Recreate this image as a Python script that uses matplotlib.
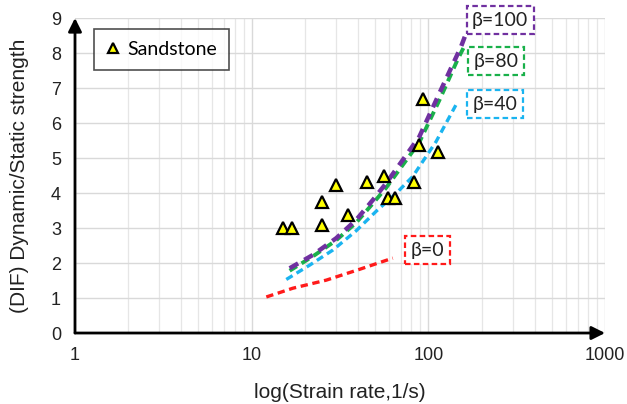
import matplotlib.pyplot as plt
import numpy as np

# sandstone test data (strain rate 1/s, DIF)
rate_pts = [15, 17, 25, 25, 30, 35, 45, 56, 59, 65, 83, 89, 93, 114]
dif_pts = [3.0, 3.0, 3.1, 3.75, 4.23, 3.37, 4.32, 4.5, 3.85, 3.85, 4.32, 5.37, 6.7, 5.18]

# model curves for different beta
rate_b0 = [12.1, 17.1, 26.4, 40.8, 62.9]
dif_b0 = [1.03, 1.28, 1.51, 1.82, 2.14]

rate_b40 = [15.7, 21.3, 28.8, 39.0, 50.7, 65.7, 81.5, 110.6, 143]
dif_b40 = [1.53, 1.94, 2.37, 2.92, 3.48, 3.99, 4.47, 5.47, 6.51]

rate_b80 = [16.4, 22.2, 30.1, 39.0, 48.5, 57.7, 88.9, 115.4, 146, 160]
dif_b80 = [1.78, 2.19, 2.65, 3.15, 3.7, 4.15, 5.45, 6.65, 7.8, 8.2]

rate_b100 = [16.4, 22.2, 30.1, 39.0, 48.5, 57.7, 88.9, 115.4, 153, 166]
dif_b100 = [1.85, 2.23, 2.71, 3.23, 3.8, 4.28, 5.61, 6.85, 8.18, 8.65]

labels = ["β=0", "β=40", "β=80", "β=100"]
label_pos = [(98.7, 2.37), (239, 6.54), (242, 7.77), (255, 8.94)]
colors = ["#FF1A1A", "#1AB4F0", "#19B04A", "#7030A0"]

fig = plt.figure(figsize=(6.27, 4.04), dpi=100)
ax = fig.add_axes([0.1196, 0.1757, 0.8454, 0.7797])

ax.set_xscale("log")
ax.set_xlim(1, 1000)
ax.set_ylim(0, 9)
ax.set_yticks(range(0, 10))
ax.set_xticks([1, 10, 100, 1000])
ax.set_xticklabels(["1", "10", "100", "1000"])
ax.grid(True, which="major", color="#d9d9d9", lw=1.0)
ax.grid(True, which="minor", axis="x", color="#e6e6e6", lw=0.9)
ax.set_axisbelow(True)
ax.tick_params(which="both", length=0, labelsize=13, pad=10)
for lab in ax.get_xticklabels() + ax.get_yticklabels():
    lab.set_fontfamily("Liberation Sans")
    lab.set_color("#222222")
for s in ax.spines.values():
    s.set_visible(False)

# axis arrows
ax.annotate("", xy=(1.0, 0), xycoords="axes fraction", xytext=(0, 0),
            arrowprops=dict(arrowstyle="-|>", color="black", lw=2, mutation_scale=20,
                            shrinkA=0, shrinkB=0))
ax.annotate("", xy=(0, 1.0), xycoords="axes fraction", xytext=(0, 0),
            arrowprops=dict(arrowstyle="-|>", color="black", lw=2, mutation_scale=20,
                            shrinkA=0, shrinkB=0))

ax.plot(rate_b0, dif_b0, color=colors[0], lw=2.4, dashes=(2.2, 1.4), zorder=3)
ax.plot(rate_b40, dif_b40, color=colors[1], lw=2.4, dashes=(2.2, 1.4), zorder=3)
ax.plot(rate_b80, dif_b80, color=colors[2], lw=2.8, dashes=(2.2, 1.4), zorder=3)
ax.plot(rate_b100, dif_b100, color=colors[3], lw=3.2, dashes=(2.2, 1.6), zorder=4)

ax.plot(rate_pts, dif_pts, ls="none", marker="^", ms=9, mfc="#FFFF00", mec="black",
        mew=1.6, label="Sandstone", zorder=5)

for txt, (x, y), c in zip(labels, label_pos, colors):
    ax.text(x, y, txt, ha="center", va="center", fontsize=14, family="Lato",
            color="#222222", zorder=6,
            bbox=dict(boxstyle="square,pad=0.28", fc="white", ec=c, lw=1.6, ls=(0, (2.5, 1.5))))

leg = ax.legend(loc="upper left", bbox_to_anchor=(0.017, 0.995), frameon=True, fancybox=False,
                prop={"family": "Lato", "size": 14}, handlelength=0.8, handletextpad=0.35,
                borderpad=0.6, markerscale=0.75)
leg.get_frame().set_edgecolor("#222222")
leg.get_frame().set_linewidth(1.2)

ax.set_ylabel("(DIF) Dynamic/Static strength", fontsize=15, family="Liberation Sans",
              color="#222222", labelpad=16)
ax.set_xlabel("log(Strain rate,1/s)", fontsize=15, family="Liberation Sans",
              color="#222222", labelpad=14)

fig.savefig("out.png", dpi=100)
